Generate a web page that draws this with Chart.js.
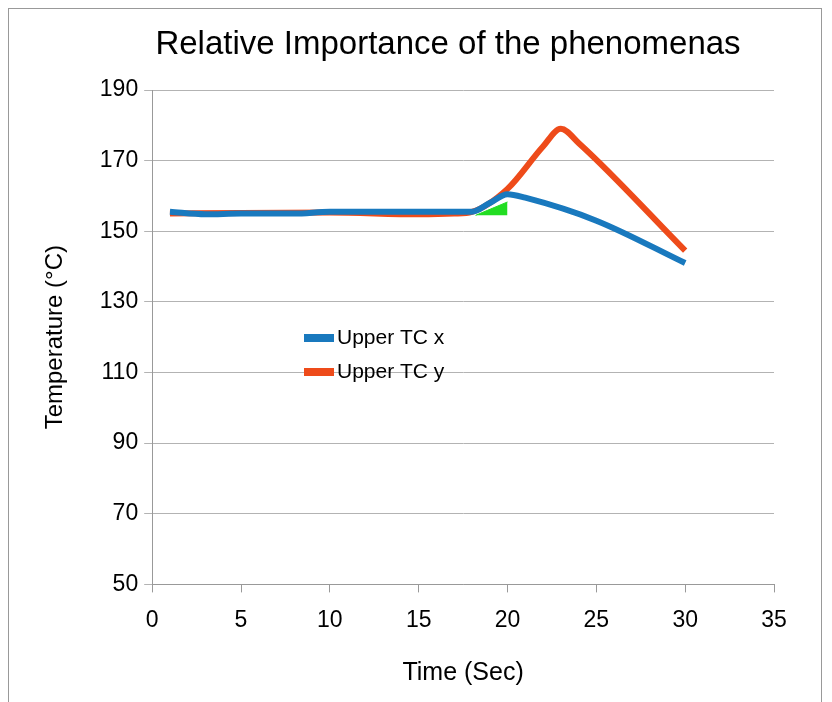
<!DOCTYPE html>
<html>
<head>
<style>
html, body { margin: 0; padding: 0; background: #fff; }
#frame { position: absolute; left: 8px; top: 8px; width: 812px; height: 700px; border-left: 1px solid #999; border-top: 1px solid #999; border-right: 1px solid #999; }
#wrap { position: absolute; left: 0; top: 0; width: 832px; height: 702px; }
</style>
</head>
<body>
<div id="frame"></div>
<div id="wrap"><canvas id="c" width="832" height="702"></canvas></div>
<script src="https://cdn.jsdelivr.net/npm/chart.js"></script>
<script>
const timeX = [1, 3, 5, 8, 10, 13, 15, 18, 19, 20, 21, 25, 30];
const upperX = [155.5, 154.8, 155, 155, 155.5, 155.5, 155.5, 155.5, 158, 160.5, 159.5, 153, 141];
const timeY = [1, 5, 10, 15, 17, 18, 20, 22, 23, 24, 30];
const upperY = [155, 155.2, 155.3, 154.8, 155, 155.5, 162, 174, 179, 175, 144.5];
const markX = [18.2, 20];
const markY = [154.5, 158.3];
const markBase = 154.5;

const pts = (xs, ys) => xs.map((x, i) => ({ x, y: ys[i] }));
const FONT = '"Liberation Sans", Arial, sans-serif';

const decorPlugin = {
  id: 'decor',
  afterDraw(chart) {
    const ctx = chart.ctx;
    ctx.save();
    ctx.fillStyle = '#000';
    ctx.font = '33px ' + FONT;
    ctx.textAlign = 'center';
    ctx.textBaseline = 'middle';
    ctx.fillText('Relative Importance of the phenomenas', 448, 45);
    const items = [['Upper TC x', '#1979be'], ['Upper TC y', '#ee4b1a']];
    ctx.font = '21px ' + FONT;
    ctx.textAlign = 'left';
    items.forEach(([t, c], i) => {
      const y = 338 + i * 34;
      ctx.fillStyle = c;
      ctx.fillRect(304, y - 4, 30, 8);
      ctx.fillStyle = '#000';
      ctx.fillText(t, 337, y);
    });
    ctx.restore();
  }
};

new Chart(document.getElementById('c'), {
  type: 'scatter',
  data: {
    datasets: [
      { label: 'Upper TC x', order: 0, data: pts(timeX, upperX), showLine: true, borderColor: '#1979be', borderWidth: 6, pointRadius: 0, cubicInterpolationMode: 'monotone' },
      { label: 'Upper TC y', order: 1, data: pts(timeY, upperY), showLine: true, borderColor: '#ee4b1a', borderWidth: 6, pointRadius: 0, cubicInterpolationMode: 'monotone' },
      { label: 'mark', order: 2, data: pts(markX, markY), showLine: true, borderColor: '#22dd22', backgroundColor: '#22dd22', fill: { value: markBase }, borderWidth: 1, pointRadius: 0, tension: 0 }
    ]
  },
  options: {
    responsive: false,
    animation: false,
    layout: { padding: { left: 37, right: 58, top: 90, bottom: 10 } },
    plugins: {
      legend: { display: false },
      tooltip: { enabled: false },
      title: { display: false }
    },
    scales: {
      x: {
        type: 'linear', min: 0, max: 35,
        ticks: { stepSize: 5, color: '#000', font: { size: 23, family: FONT }, padding: 14 },
        grid: { drawOnChartArea: false, color: '#999', tickLength: 8 },
        border: { color: '#999' },
        title: { display: true, text: 'Time (Sec)', color: '#000', font: { size: 25, family: FONT }, padding: { top: 10 } }
      },
      y: {
        min: 50, max: 190,
        ticks: { stepSize: 20, color: '#000', font: { size: 23, family: FONT }, padding: 6 },
        grid: { color: '#b3b3b3', tickLength: 8 },
        border: { color: '#999' },
        title: { display: true, text: 'Temperature (°C)', color: '#000', font: { size: 24, family: FONT }, padding: { bottom: 24 } }
      }
    }
  },
  plugins: [decorPlugin]
});
</script>
</body>
</html>
